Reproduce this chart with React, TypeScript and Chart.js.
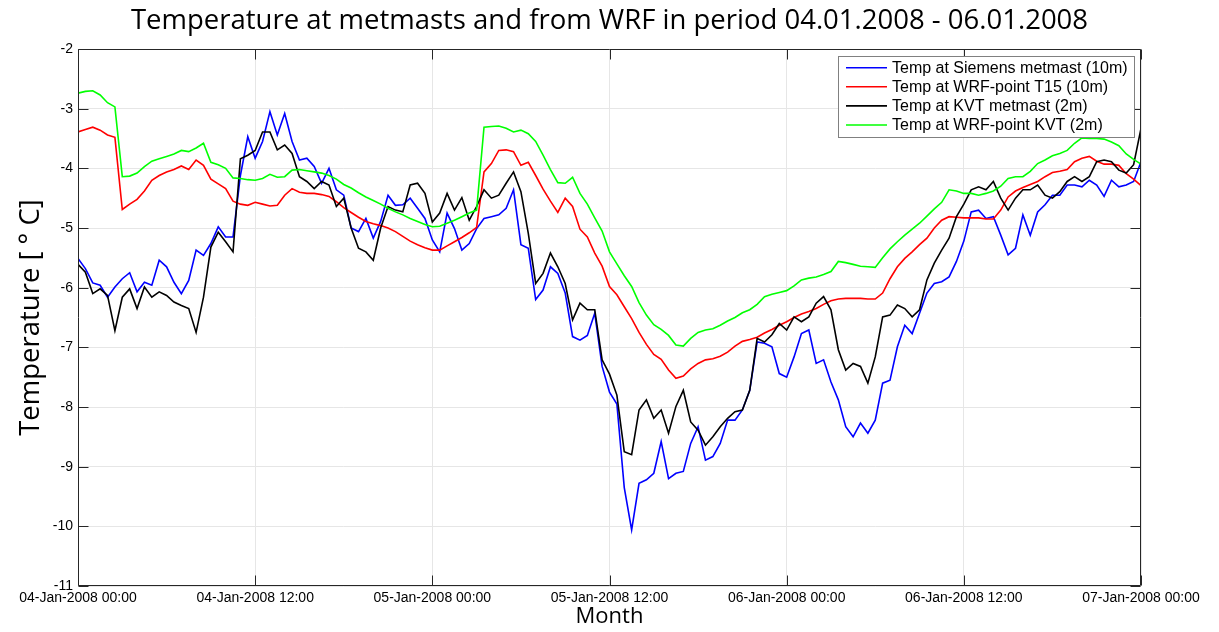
import React, { useEffect, useRef } from 'react';
import { Chart, registerables } from 'chart.js';

Chart.register(...registerables);

const TITLE = 'Temperature at metmasts and from WRF in period 04.01.2008 - 06.01.2008';
const X_TITLE = 'Month';
const Y_TITLE = 'Temperature [ \u00B0 C]';

// samples every half hour, starting 04-Jan-2008 00:00
const STEP_HOURS = 0.5;

const xTickLabels = [
  '04-Jan-2008 00:00',
  '04-Jan-2008 12:00',
  '05-Jan-2008 00:00',
  '05-Jan-2008 12:00',
  '06-Jan-2008 00:00',
  '06-Jan-2008 12:00',
  '07-Jan-2008 00:00',
];

const seriesLabels = [
  'Temp at Siemens metmast (10m)',
  'Temp at WRF-point T15 (10m)',
  'Temp at KVT metmast (2m)',
  'Temp at WRF-point KVT (2m)',
];

const seriesColors = ['#0000ff', '#ff0000', '#000000', '#00ff00'];

const siemens10m = [
  -5.51, -5.68, -5.92, -5.96, -6.16, -5.99, -5.85, -5.75, -6.07, -5.91,
  -5.96, -5.54, -5.65, -5.91, -6.10, -5.88, -5.37, -5.46, -5.26, -4.98,
  -5.15, -5.15, -4.12, -3.47, -3.83, -3.55, -3.05, -3.44, -3.08, -3.55,
  -3.86, -3.83, -3.97, -4.25, -4.00, -4.36, -4.45, -5.00, -5.06, -4.84,
  -5.17, -4.89, -4.45, -4.62, -4.61, -4.50, -4.67, -4.84, -5.20, -5.40,
  -4.75, -5.01, -5.37, -5.26, -5.01, -4.84, -4.81, -4.78, -4.67, -4.36,
  -5.28, -5.34, -6.20, -6.04, -5.65, -5.76, -6.09, -6.82, -6.88, -6.80,
  -6.43, -7.32, -7.75, -7.95, -9.35, -10.06, -9.28, -9.22, -9.11, -8.58,
  -9.20, -9.11, -9.08, -8.61, -8.33, -8.89, -8.83, -8.61, -8.22, -8.22,
  -8.05, -7.72, -6.91, -6.93, -6.99, -7.44, -7.50, -7.16, -6.77, -6.71,
  -7.27, -7.21, -7.58, -7.88, -8.33, -8.50, -8.27, -8.44, -8.22, -7.60,
  -7.55, -6.99, -6.63, -6.77, -6.43, -6.09, -5.93, -5.90, -5.82, -5.56,
  -5.22, -4.73, -4.70, -4.84, -4.81, -5.12, -5.45, -5.34, -4.78, -5.12,
  -4.73, -4.61, -4.45, -4.45, -4.28, -4.28, -4.31, -4.20, -4.28, -4.47,
  -4.20, -4.31, -4.28, -4.22, -3.89,
];

const wrfT15 = [
  -3.39, -3.35, -3.31, -3.36, -3.44, -3.48, -4.69, -4.60, -4.52, -4.38,
  -4.20, -4.12, -4.06, -4.02, -3.96, -4.02, -3.86, -3.95, -4.18, -4.26,
  -4.34, -4.55, -4.60, -4.62, -4.57, -4.60, -4.63, -4.62, -4.45, -4.34,
  -4.40, -4.42, -4.42, -4.44, -4.47, -4.56, -4.66, -4.74, -4.82, -4.89,
  -4.93, -4.96, -5.00, -5.06, -5.14, -5.22, -5.28, -5.33, -5.37, -5.37,
  -5.30, -5.23, -5.16, -5.08, -4.99, -4.06, -3.92, -3.70, -3.69, -3.72,
  -3.95, -3.90, -4.12, -4.35, -4.55, -4.74, -4.50, -4.64, -5.02, -5.15,
  -5.42, -5.64, -5.98, -6.12, -6.32, -6.52, -6.75, -6.95, -7.12, -7.20,
  -7.38, -7.52, -7.48, -7.36, -7.27, -7.21, -7.19, -7.15, -7.08, -6.98,
  -6.90, -6.87, -6.83, -6.76, -6.70, -6.63, -6.57, -6.50, -6.44, -6.40,
  -6.35, -6.28, -6.22, -6.19, -6.18, -6.18, -6.18, -6.19, -6.19, -6.09,
  -5.85, -5.65, -5.51, -5.40, -5.28, -5.17, -5.00, -4.87, -4.81, -4.82,
  -4.83, -4.83, -4.83, -4.85, -4.85, -4.70, -4.48, -4.38, -4.32, -4.27,
  -4.22, -4.14, -4.07, -4.05, -4.02, -3.89, -3.83, -3.80, -3.88, -3.93,
  -3.93, -3.95, -4.09, -4.18, -4.29,
];

const kvt2m = [
  -5.61, -5.74, -6.10, -6.02, -6.13, -6.72, -6.16, -6.02, -6.35, -5.99,
  -6.16, -6.07, -6.13, -6.24, -6.30, -6.35, -6.75, -6.16, -5.32, -5.07,
  -5.23, -5.40, -3.84, -3.78, -3.70, -3.39, -3.39, -3.69, -3.61, -3.75,
  -4.14, -4.22, -4.34, -4.22, -4.28, -4.64, -4.50, -5.00, -5.34, -5.40,
  -5.54, -5.00, -4.64, -4.70, -4.73, -4.28, -4.25, -4.42, -4.90, -4.75,
  -4.42, -4.70, -4.49, -4.87, -4.64, -4.36, -4.50, -4.45, -4.25, -4.06,
  -4.39, -5.09, -5.93, -5.76, -5.42, -5.65, -5.93, -6.54, -6.26, -6.37,
  -6.37, -7.21, -7.45, -7.80, -8.75, -8.80, -8.05, -7.88, -8.19, -8.05,
  -8.44, -7.99, -7.72, -8.25, -8.39, -8.64, -8.50, -8.33, -8.19, -8.08,
  -8.05, -7.72, -6.85, -6.91, -6.79, -6.60, -6.71, -6.49, -6.57, -6.49,
  -6.26, -6.15, -6.37, -7.04, -7.38, -7.27, -7.32, -7.60, -7.16, -6.49,
  -6.46, -6.29, -6.35, -6.49, -6.37, -5.87, -5.59, -5.37, -5.17, -4.81,
  -4.60, -4.36, -4.31, -4.36, -4.22, -4.50, -4.70, -4.50, -4.36, -4.36,
  -4.28, -4.45, -4.50, -4.39, -4.22, -4.14, -4.22, -4.14, -3.89, -3.86,
  -3.89, -4.03, -4.08, -3.94, -3.33,
];

const wrfKvt = [
  -2.74, -2.71, -2.70, -2.77, -2.90, -2.97, -4.14, -4.13, -4.08, -3.97,
  -3.88, -3.84, -3.80, -3.76, -3.70, -3.72, -3.66, -3.58, -3.90, -3.94,
  -4.00, -4.16, -4.17, -4.19, -4.20, -4.17, -4.10, -4.15, -4.14, -4.03,
  -4.02, -4.04, -4.06, -4.08, -4.12, -4.18, -4.27, -4.33, -4.41, -4.48,
  -4.54, -4.60, -4.67, -4.73, -4.78, -4.84, -4.89, -4.94, -4.98, -4.97,
  -4.92, -4.87, -4.81, -4.75, -4.70, -3.31, -3.30, -3.29, -3.33, -3.39,
  -3.36, -3.42, -3.55, -3.78, -4.02, -4.24, -4.25, -4.15, -4.42, -4.60,
  -4.83, -5.05, -5.40, -5.60, -5.80, -5.98, -6.25, -6.46, -6.62, -6.70,
  -6.80, -6.96, -6.98, -6.85, -6.75, -6.71, -6.69, -6.63, -6.56, -6.50,
  -6.42, -6.37, -6.28, -6.15, -6.11, -6.08, -6.05, -5.97, -5.87, -5.84,
  -5.82, -5.78, -5.73, -5.56, -5.58, -5.61, -5.64, -5.65, -5.66, -5.50,
  -5.35, -5.23, -5.12, -5.02, -4.92, -4.80, -4.68, -4.57, -4.36, -4.38,
  -4.42, -4.42, -4.45, -4.42, -4.38, -4.30, -4.17, -4.14, -4.14, -4.05,
  -3.92, -3.86, -3.79, -3.75, -3.70, -3.58, -3.49, -3.50, -3.50, -3.51,
  -3.56, -3.62, -3.76, -3.85, -3.93,
];

const seriesValues = [siemens10m, wrfT15, kvt2m, wrfKvt];
const seriesOrder = [4, 3, 2, 1];

const TICK_FONT = '"Liberation Sans", Arial, sans-serif';
const LABEL_FONT = '"Open Sans", "DejaVu Sans", sans-serif';

const framePlugin = {
  id: 'frameTicks',
  afterDatasetsDraw(chart: any) {
    const { ctx, chartArea: a, scales } = chart;
    const L = Math.round(a.left) + 0.5;
    const R = Math.round(a.right) - 0.5;
    const T = Math.round(a.top) + 0.5;
    const B = Math.round(a.bottom) - 0.5;
    const len = 10;
    ctx.save();
    ctx.strokeStyle = '#262626';
    ctx.lineWidth = 1;
    ctx.beginPath();
    ctx.rect(L, T, R - L, B - T);
    for (const t of scales.x.ticks) {
      const px = Math.round(scales.x.getPixelForValue(t.value)) + 0.5;
      ctx.moveTo(px, B);
      ctx.lineTo(px, B - len);
      ctx.moveTo(px, T);
      ctx.lineTo(px, T + len);
    }
    for (const t of scales.y.ticks) {
      const py = Math.round(scales.y.getPixelForValue(t.value)) + 0.5;
      ctx.moveTo(L, py);
      ctx.lineTo(L + len, py);
      ctx.moveTo(R, py);
      ctx.lineTo(R - len, py);
    }
    ctx.stroke();
    ctx.restore();
  },
};

const legendPlugin = {
  id: 'boxLegend',
  afterDatasetsDraw(chart: any) {
    const { ctx, chartArea: a } = chart;
    const datasets = chart.data.datasets;
    ctx.save();
    ctx.font = '16px ' + TICK_FONT;
    const maxW = Math.max(...datasets.map((d: any) => ctx.measureText(d.label).width));
    const rowH = 19.1;
    const first = 11.7;
    const boxW = Math.round(54 + maxW + 6);
    const boxH = Math.round(first * 2 + rowH * (datasets.length - 1));
    const right = Math.round(a.right) - 7;
    const left = right - boxW;
    const top = Math.round(a.top) + 7;
    ctx.fillStyle = '#ffffff';
    ctx.fillRect(left, top, boxW, boxH);
    ctx.strokeStyle = '#808080';
    ctx.lineWidth = 1;
    ctx.strokeRect(left + 0.5, top + 0.5, boxW, boxH);
    datasets.forEach((d: any, i: number) => {
      const y = top + first + i * rowH;
      ctx.strokeStyle = d.borderColor;
      ctx.lineWidth = 1.6;
      ctx.beginPath();
      ctx.moveTo(left + 8, y);
      ctx.lineTo(left + 49, y);
      ctx.stroke();
      ctx.fillStyle = '#000000';
      ctx.textAlign = 'left';
      ctx.textBaseline = 'middle';
      ctx.fillText(d.label, left + 54, y + 1);
    });
    ctx.restore();
  },
};

export default function App() {
  const ref = useRef<HTMLCanvasElement>(null);

  useEffect(() => {
    document.body.style.margin = '0';
    const canvas = ref.current;
    if (!canvas) return;
    const datasets = seriesValues.map((vals, k) => ({
      label: seriesLabels[k],
      data: vals.map((v, i) => ({ x: i * STEP_HOURS, y: v })),
      borderColor: seriesColors[k],
      backgroundColor: seriesColors[k],
      borderWidth: 1.6,
      pointRadius: 0,
      tension: 0,
      fill: false,
      order: seriesOrder[k],
    }));

    const chart = new Chart(canvas, {
      type: 'line',
      data: { datasets },
      options: {
        animation: false,
        responsive: false,
        devicePixelRatio: 1,
        layout: { padding: { left: 0, right: 0, top: 0, bottom: 0 } },
        plugins: {
          legend: { display: false },
          tooltip: { enabled: false },
          title: {
            display: true,
            text: TITLE,
            color: '#000000',
            font: { family: LABEL_FONT, size: 27.5, weight: 'normal', lineHeight: 1.2 },
            padding: { top: 5, bottom: 11 },
          },
        },
        scales: {
          x: {
            type: 'linear',
            min: 0,
            max: 72,
            afterFit: (s: any) => {
              s.height = 46;
            },
            ticks: {
              stepSize: 12,
              autoSkip: false,
              maxRotation: 0,
              padding: 4,
              color: '#000000',
              font: { family: TICK_FONT, size: 14 },
              callback: (v: any) => xTickLabels[Math.round(Number(v) / 12)] ?? '',
            },
            grid: { color: '#e6e6e6', drawTicks: false },
            border: { display: false },
            title: {
              display: true,
              text: X_TITLE,
              color: '#000000',
              font: { family: LABEL_FONT, size: 22, lineHeight: 1.2 },
              padding: { top: 0, bottom: 2 },
            },
          },
          y: {
            type: 'linear',
            min: -11,
            max: -2,
            afterFit: (s: any) => {
              s.width = 78;
            },
            ticks: {
              stepSize: 1,
              padding: 5,
              color: '#000000',
              font: { family: TICK_FONT, size: 14 },
            },
            grid: { color: '#e6e6e6', drawTicks: false },
            border: { display: false },
            title: {
              display: true,
              text: Y_TITLE,
              color: '#000000',
              font: { family: LABEL_FONT, size: 27.5, lineHeight: 1.2 },
              padding: { top: 15, bottom: 0 },
            },
          },
          yRight: {
            type: 'linear',
            position: 'right',
            min: -11,
            max: -2,
            afterFit: (s: any) => {
              s.width = 78;
            },
            ticks: { display: false },
            grid: { display: false, drawOnChartArea: false, drawTicks: false },
            border: { display: false },
          },
        },
      },
      plugins: [framePlugin, legendPlugin],
    });
    return () => chart.destroy();
  }, []);

  return (
    <div style={{ position: 'absolute', left: 0, top: 0, width: 1219, height: 632, background: '#ffffff' }}>
      <canvas ref={ref} width={1219} height={632} style={{ display: 'block' }} />
    </div>
  );
}
